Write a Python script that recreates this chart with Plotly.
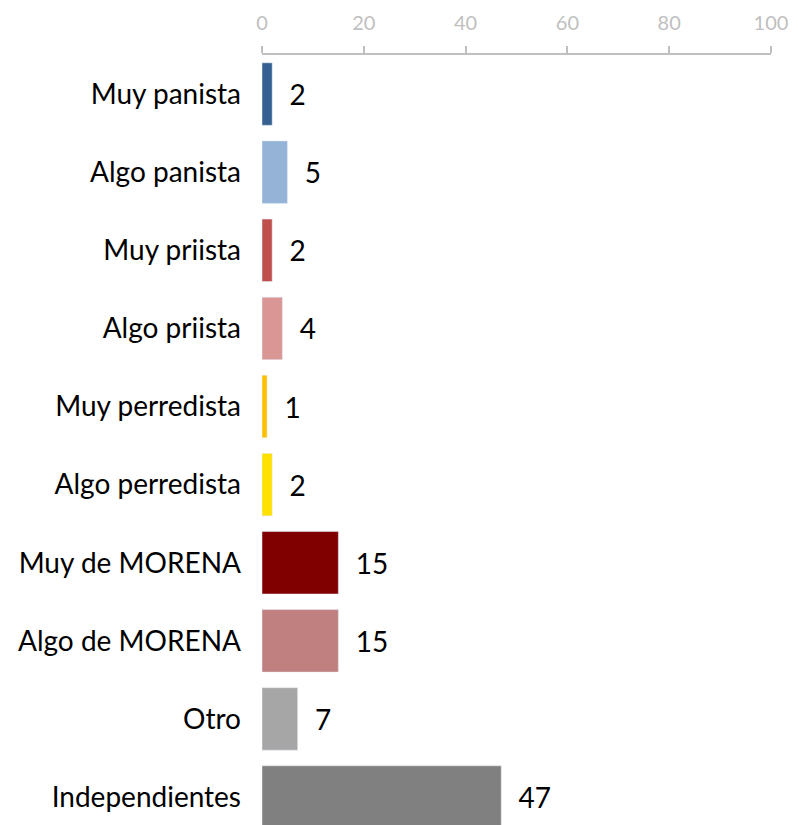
import plotly.graph_objects as go

categorias = [
    "Muy panista",
    "Algo panista",
    "Muy priista",
    "Algo priista",
    "Muy perredista",
    "Algo perredista",
    "Muy de MORENA",
    "Algo de MORENA",
    "Otro",
    "Independientes",
]
valores = [2, 5, 2, 4, 1, 2, 15, 15, 7, 47]
colores = [
    "#366092",
    "#95B3D7",
    "#C0504D",
    "#DA9694",
    "#FFC000",
    "#FFE000",
    "#800000",
    "#C08080",
    "#A6A6A6",
    "#808080",
]
ticks_x = [0, 20, 40, 60, 80, 100]

fig = go.Figure(
    go.Bar(
        x=valores,
        y=categorias,
        orientation="h",
        marker_color=colores,
        width=0.8,
        text=valores,
        texttemplate="  %{x}",
        textposition="outside",
        textfont=dict(size=28, color="#000000"),
        cliponaxis=False,
    )
)

fig.update_layout(
    width=798,
    height=825,
    margin=dict(l=254, r=35, t=47, b=0),
    plot_bgcolor="white",
    paper_bgcolor="white",
    font=dict(family="Lato, Open Sans, sans-serif", color="#000000"),
    showlegend=False,
    xaxis=dict(
        side="top",
        range=[0, 100],
        tickvals=ticks_x,
        showgrid=False,
        zeroline=False,
        showline=True,
        linecolor="#BFBFBF",
        linewidth=1.5,
        ticks="outside",
        ticklen=7,
        tickwidth=1.5,
        tickcolor="#BFBFBF",
        tickfont=dict(size=20, color="#BFBFBF"),
        ticklabelstandoff=8,
    ),
    yaxis=dict(
        range=[9.46, -0.5],
        showgrid=False,
        zeroline=False,
        showline=False,
        ticks="",
        tickfont=dict(size=28, color="#000000"),
        ticklabelstandoff=20,
    ),
)

fig.write_html("out.html")
